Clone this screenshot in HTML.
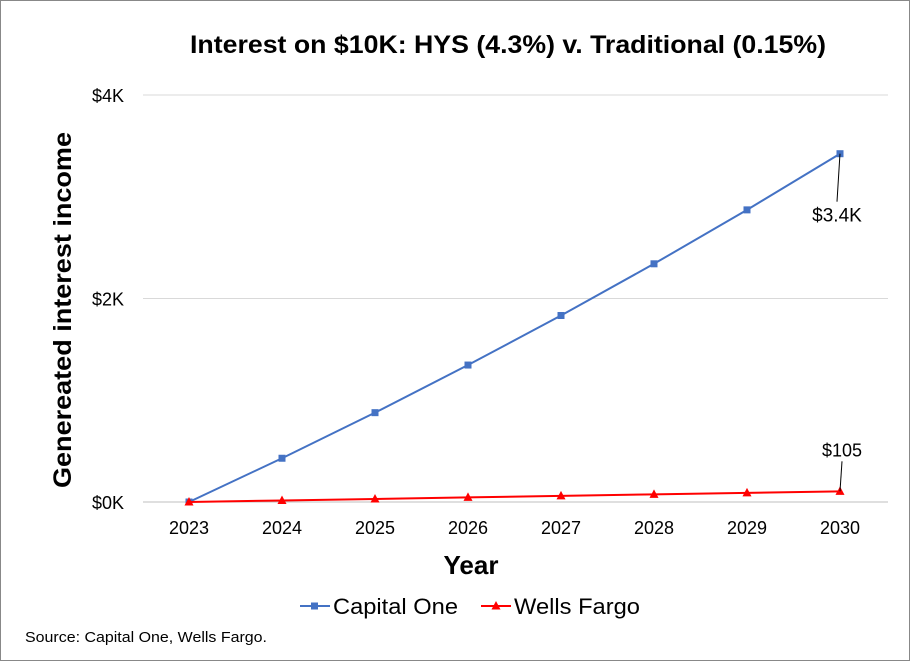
<!DOCTYPE html>
<html><head><meta charset="utf-8"><style>
body{margin:0;background:#fff;}
svg{display:block;font-family:"Liberation Sans",Arial,sans-serif;}
</style></head><body>
<svg id="chart" width="910" height="661" viewBox="0 0 910 661">
<rect x="0.5" y="0.5" width="909" height="660" fill="#fff" stroke="#888"/>
<text x="190" y="53" font-size="25" font-weight="bold" textLength="636" lengthAdjust="spacingAndGlyphs">Interest on $10K: HYS (4.3%) v. Traditional (0.15%)</text>
<g id="grid"></g><g id="yticks"></g><g id="xticks"></g><g id="series"></g>
<text transform="translate(71,488) rotate(-90)" font-size="25" font-weight="bold" textLength="356" lengthAdjust="spacingAndGlyphs">Genereated interest income</text>
<text x="471" y="574" text-anchor="middle" font-size="26" font-weight="bold">Year</text>
<g>
<g>
<line x1="300" y1="606" x2="330" y2="606" stroke="#4472C4" stroke-width="2"/><rect x="311" y="602.5" width="7" height="7" fill="#4472C4"/>
<text x="333" y="614" font-size="22" textLength="125" lengthAdjust="spacingAndGlyphs">Capital One</text></g>
<g>
<line x1="481" y1="606" x2="511" y2="606" stroke="#FF0000" stroke-width="2"/><polygon points="496,601 500.5,609.5 491.5,609.5" fill="#FF0000"/>
<text x="514" y="614" font-size="22" textLength="126" lengthAdjust="spacingAndGlyphs">Wells Fargo</text></g>
</g>
<text x="25" y="642" font-size="15" textLength="242" lengthAdjust="spacingAndGlyphs">Source: Capital One, Wells Fargo.</text>
</svg>
<script>
const years=[2023,2024,2025,2026,2027,2028,2029,2030];
const capitalOne=[0,430,878,1346,1833,2341,2871,3423];
const wellsFargo=[0,15,30,45,60,75,90,105];
const yTicks=[0,2000,4000];
const yTickLabels=["$0K","$2K","$4K"];
const NS="http://www.w3.org/2000/svg";
function X(i){return 189+i*93;}
function Y(v){return 502-v*(407/4000);}
function mk(t,a,p){const e=document.createElementNS(NS,t);for(const k in a)e.setAttribute(k,a[k]);p.appendChild(e);return e;}
const grid=document.getElementById('grid'),yt=document.getElementById('yticks'),xt=document.getElementById('xticks'),ser=document.getElementById('series');
yTicks.forEach((v,i)=>{
 const l=mk('line',{x1:143,x2:888,y1:Y(v),y2:Y(v),stroke:v===0?'#bfbfbf':'#d9d9d9','stroke-width':1},grid);
 
 
 const t=mk('text',{x:124,y:Y(v)+7,'text-anchor':'end','font-size':18},yt);t.textContent=yTickLabels[i];
 
 
});
years.forEach((y,i)=>{
 const t=mk('text',{x:X(i),y:534,'text-anchor':'middle','font-size':18},xt);t.textContent=y;
 
 
});
function draw(vals,color,shape,name){
 const pl=mk('polyline',{points:vals.map((v,i)=>X(i)+','+Y(v)).join(' '),fill:'none',stroke:color,'stroke-width':2},ser);
 
 
 vals.forEach((v,i)=>{
  let m;
  if(shape==='sq')m=mk('rect',{x:X(i)-3.5,y:Y(v)-3.5,width:7,height:7,fill:color},ser);
  else m=mk('polygon',{points:`${X(i)},${Y(v)-5} ${X(i)+4.5},${Y(v)+3.5} ${X(i)-4.5},${Y(v)+3.5}`,fill:color},ser);
  
  
 });
}
draw(capitalOne,'#4472C4','sq','capital-one');
draw(wellsFargo,'#FF0000','tri','wells-fargo');
const n=years.length-1;
const c=capitalOne[n],w=wellsFargo[n];
mk('line',{x1:X(n),y1:Y(c),x2:X(n)-3,y2:Y(c)+48,stroke:'#000','stroke-width':1},ser);
const a1=mk('text',{x:X(n)-3,y:Y(c)+68,'text-anchor':'middle','font-size':19},ser);a1.textContent='$'+(c/1000).toFixed(1)+'K';


mk('line',{x1:X(n),y1:Y(w),x2:X(n)+2,y2:Y(w)-30,stroke:'#000','stroke-width':1},ser);
const a2=mk('text',{x:X(n)+2,y:Y(w)-35,'text-anchor':'middle','font-size':18},ser);a2.textContent='$'+w;


</script>
</body></html>
